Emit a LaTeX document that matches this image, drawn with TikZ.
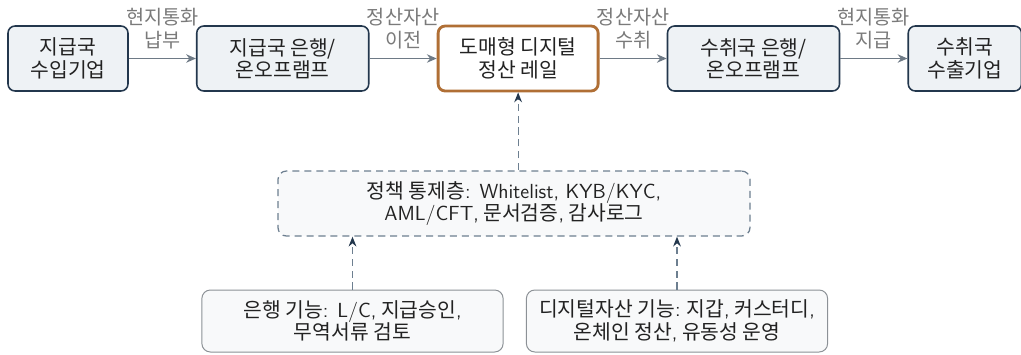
\documentclass[tikz,border=0pt]{standalone}
\usepackage{fontspec}
\usepackage{xcolor}
\usepackage{tikz}
\usetikzlibrary{positioning, arrows.meta}
\newfontfamily\hangul{Noto Sans CJK KR}
\definecolor{NavyLine}{HTML}{23374D}
\definecolor{PaleBlue}{HTML}{EEF2F5}
\definecolor{RailBrown}{HTML}{B06F35}
\definecolor{FlowGrey}{HTML}{6E7A86}
\definecolor{LabelGrey}{HTML}{7A7A7A}
\definecolor{PolicyGrey}{HTML}{6D7F90}
\definecolor{SoftGrey}{HTML}{F8F9FA}
\definecolor{BoxGrey}{HTML}{8C9196}
\definecolor{InkGrey}{HTML}{222222}

\begin{document}
\begin{tikzpicture}[node distance=1.68cm, every node/.style={font=\hangul\fontsize{14.5}{16}\selectfont, text=InkGrey}]
    \tikzstyle{party} = [rectangle, draw=NavyLine, fill=PaleBlue, line width=1.1pt, align=center, rounded corners=5pt, minimum height=1.625cm]
    \tikzstyle{rail} = [rectangle, draw=RailBrown, fill=white, line width=2pt, align=center, rounded corners=5pt, minimum height=1.625cm, minimum width=4.0cm]
    \tikzstyle{policy} = [rectangle, draw=PolicyGrey, fill=SoftGrey, line width=0.9pt, dash pattern=on 5pt off 3.5pt, align=center, rounded corners=6pt, minimum width=11.8cm, minimum height=1.625cm]
    \tikzstyle{func} = [rectangle, draw=BoxGrey, fill=SoftGrey, line width=0.7pt, align=center, rounded corners=6pt, minimum width=7.53cm, minimum height=1.55cm]
    \tikzstyle{flow} = [draw, -{Stealth[length=7pt, width=6pt]}, line width=1pt, FlowGrey]
    \tikzstyle{feed} = [draw, -{Stealth[length=7pt, width=5.5pt, NavyLine]}, line width=0.9pt, PolicyGrey, dash pattern=on 5pt off 3.5pt]
    \tikzstyle{tag} = [align=center, text=LabelGrey, inner sep=1pt, above=5pt, font=\hangul\fontsize{14}{16.5}\selectfont]

    \useasboundingbox (0,0) rectangle (25.525,-8.85);

    \node [party, minimum width=3.0cm] (payer) at (1.7,-1.4625) {지급국\\수입기업};
    \node [party, minimum width=4.3cm, right=of payer] (payerbank) {지급국 은행/\\온오프램프};
    \node [rail, right=of payerbank] (rail) {도매형 디지털\\정산 레일};
    \node [party, minimum width=4.3cm, right=of rail] (payeebank) {수취국 은행/\\온오프램프};
    \node [party, minimum width=2.83cm, right=of payeebank] (payee) {수취국\\수출기업};

    \node [policy] (ctrl) at (12.85,-5.0875) {정책 통제층\textsf{: Whitelist, KYB/KYC,}\\\textsf{AML/CFT,} 문서검증\textsf{,} 감사로그};
    \node [func] (bankfn) at (8.8125,-8.025) {은행 기능\textsf{: L/C,} 지급승인\textsf{,}\\무역서류 검토};
    \node [func] (digifn) at (16.925,-8.025) {디지털자산 기능\textsf{:} 지갑\textsf{,} 커스터디\textsf{,}\\온체인 정산\textsf{,} 유동성 운영};

    \path [flow] (payer) -- node [tag] {현지통화\\납부} (payerbank);
    \path [flow] (payerbank) -- node [tag] {정산자산\\이전} (rail);
    \path [flow] (rail) -- node [tag] {정산자산\\수취} (payeebank);
    \path [flow] (payeebank) -- node [tag] {현지통화\\지급} (payee);

    \path [feed] (ctrl.north -| rail.south) -- (rail.south);
    \path [feed] (bankfn) -- (bankfn |- ctrl.south);
    \path [feed] (digifn) -- (digifn |- ctrl.south);
\end{tikzpicture}
\end{document}
